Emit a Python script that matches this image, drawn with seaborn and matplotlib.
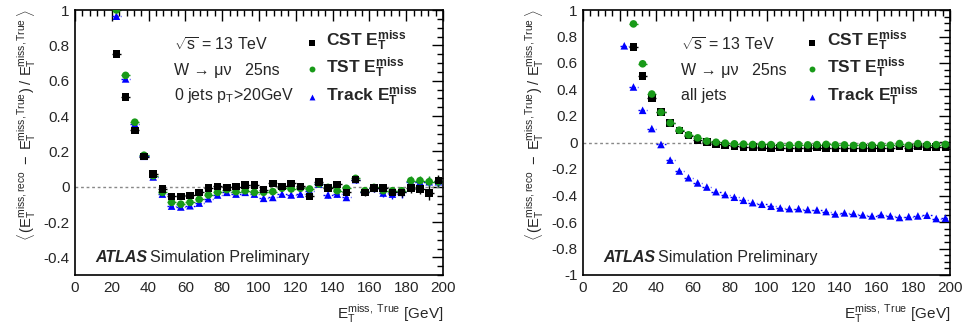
import numpy as np
import pandas as pd
import matplotlib
matplotlib.use("Agg")
import matplotlib.pyplot as plt
from matplotlib.ticker import MultipleLocator
import seaborn as sns

sns.set_style("white")
plt.rcParams['font.family'] = ['Liberation Sans', 'DejaVu Sans']
plt.rcParams['mathtext.fontset'] = 'custom'
plt.rcParams['mathtext.rm'] = 'Liberation Sans'
plt.rcParams['mathtext.it'] = 'Liberation Sans:italic'
plt.rcParams['mathtext.bf'] = 'Liberation Sans:bold'

# ---------------- data ----------------
# bin centres (GeV)
x_left = [22.5, 27.5, 32.5, 37.5, 42.5, 47.5, 52.5, 57.5, 62.5, 67.5, 72.5, 77.5,
          82.5, 87.5, 92.5, 97.5, 102.5, 107.5, 112.5, 117.5, 122.5, 127.5, 132.5,
          137.5, 142.5, 147.5, 152.5, 157.5, 162.5, 167.5, 172.5, 177.5, 182.5,
          187.5, 192.5, 197.5]
cst_left = [0.75, 0.507, 0.318, 0.17, 0.072, -0.013, -0.055, -0.055, -0.049, -0.033,
            -0.009, 0.002, -0.004, 0.0, 0.009, 0.009, -0.017, 0.019, 0.002, 0.019,
            0.002, -0.055, 0.028, -0.008, 0.013, -0.032, 0.04, -0.032, -0.009, -0.009,
            -0.032, -0.032, -0.009, -0.013, -0.036, 0.034]
tst_left = [1.0, 0.63, 0.365, 0.178, 0.062, -0.032, -0.089, -0.099, -0.089, -0.072,
            -0.047, -0.032, -0.017, -0.028, -0.023, -0.032, -0.032, -0.028, -0.009,
            -0.013, -0.009, -0.013, 0.015, -0.004, -0.023, -0.009, 0.047, -0.023,
            -0.004, -0.023, -0.023, -0.023, 0.034, 0.034, 0.028, 0.028]
trk_left = [0.965, 0.61, 0.355, 0.172, 0.055, -0.042, -0.11, -0.115, -0.108, -0.093,
            -0.068, -0.047, -0.032, -0.042, -0.032, -0.042, -0.066, -0.061, -0.042,
            -0.047, -0.042, -0.023, 0.015, -0.047, -0.042, -0.061, 0.04, -0.028,
            -0.009, -0.036, -0.042, -0.032, 0.028, 0.028, 0.028, 0.028]
cst_left_err = [0.006, 0.006, 0.006, 0.006, 0.006, 0.006, 0.006, 0.006, 0.007, 0.007,
                0.008, 0.008, 0.008, 0.009, 0.009, 0.010, 0.010, 0.011, 0.011, 0.012,
                0.012, 0.013, 0.014, 0.014, 0.015, 0.016, 0.017, 0.018, 0.019, 0.020,
                0.022, 0.025, 0.028, 0.030, 0.040, 0.030]
tst_left_err = [0.005, 0.005, 0.005, 0.005, 0.005, 0.005, 0.005, 0.005, 0.006, 0.006,
                0.007, 0.007, 0.007, 0.008, 0.008, 0.009, 0.009, 0.010, 0.010, 0.011,
                0.011, 0.012, 0.012, 0.013, 0.014, 0.015, 0.016, 0.017, 0.018, 0.019,
                0.020, 0.022, 0.025, 0.027, 0.030, 0.030]
trk_left_err = [0.005, 0.005, 0.005, 0.005, 0.005, 0.005, 0.006, 0.006, 0.006, 0.007,
                0.007, 0.008, 0.008, 0.009, 0.009, 0.010, 0.010, 0.011, 0.011, 0.012,
                0.012, 0.013, 0.014, 0.015, 0.016, 0.017, 0.018, 0.019, 0.020, 0.022,
                0.030, 0.032, 0.028, 0.030, 0.032, 0.030]

x_right_calo = [27.5, 32.5, 37.5, 42.5, 47.5, 52.5, 57.5, 62.5, 67.5, 72.5, 77.5,
                82.5, 87.5, 92.5, 97.5, 102.5, 107.5, 112.5, 117.5, 122.5, 127.5,
                132.5, 137.5, 142.5, 147.5, 152.5, 157.5, 162.5, 167.5, 172.5, 177.5,
                182.5, 187.5, 192.5, 197.5]
cst_right = [0.72, 0.504, 0.336, 0.228, 0.145, 0.09, 0.052, 0.017, 0.002, -0.015,
             -0.022, -0.027, -0.032, -0.035, -0.038, -0.04, -0.038, -0.042, -0.04,
             -0.04, -0.038, -0.04, -0.042, -0.04, -0.042, -0.04, -0.042, -0.044,
             -0.04, -0.03, -0.04, -0.03, -0.035, -0.035, -0.035]
tst_right = [0.895, 0.594, 0.366, 0.228, 0.148, 0.093, 0.058, 0.035, 0.01, 0.002,
             -0.005, -0.01, -0.012, -0.015, -0.015, -0.016, -0.02, -0.02, -0.016,
             -0.018, -0.016, -0.014, -0.018, -0.018, -0.022, -0.022, -0.02, -0.02,
             -0.02, -0.008, -0.022, -0.008, -0.016, -0.016, -0.014]
x_right_trk = [22.5, 27.5, 32.5, 37.5, 42.5, 47.5, 52.5, 57.5, 62.5, 67.5, 72.5, 77.5,
               82.5, 87.5, 92.5, 97.5, 102.5, 107.5, 112.5, 117.5, 122.5, 127.5,
               132.5, 137.5, 142.5, 147.5, 152.5, 157.5, 162.5, 167.5, 172.5, 177.5,
               182.5, 187.5, 192.5, 197.5]
trk_right = [0.73, 0.419, 0.243, 0.105, -0.015, -0.133, -0.215, -0.266, -0.305,
             -0.336, -0.371, -0.393, -0.413, -0.436, -0.454, -0.466, -0.481, -0.494,
             -0.499, -0.499, -0.506, -0.509, -0.521, -0.539, -0.531, -0.536, -0.546,
             -0.554, -0.544, -0.554, -0.566, -0.559, -0.554, -0.549, -0.574, -0.571]

series_names = ['CST', 'TST', 'Track']
series_colors = {'CST': 'black', 'TST': '#189a18', 'Track': '#0000ff'}
series_markers = {'CST': 's', 'TST': 'o', 'Track': '^'}

W, H = 968, 333
fig = plt.figure(figsize=(W / 100, H / 100), dpi=100)
axL = fig.add_axes([75 / W, 1 - 275 / H, 368 / W, 265 / H])
axR = fig.add_axes([583 / W, 1 - 275 / H, 367 / W, 265 / H])


def draw_series(ax, x, y, yerr, name):
    c = series_colors[name]
    eb = ax.errorbar(x, y, yerr=yerr, xerr=2.5, fmt='none', ecolor=c,
                     elinewidth=1.0, capsize=0, zorder=2)
    if name == 'Track':
        for lc in eb[2]:
            lc.set_linestyle((0, (1.5, 1.5)))
    df = pd.DataFrame({'x': x, 'y': y})
    sns.scatterplot(data=df, x='x', y='y', ax=ax, marker=series_markers[name],
                    color=c, s=30, edgecolor='none', linewidth=0, zorder=3,
                    legend=False)


# left panel
draw_series(axL, x_left, trk_left, trk_left_err, 'Track')
draw_series(axL, x_left, tst_left, tst_left_err, 'TST')
draw_series(axL, x_left, cst_left, cst_left_err, 'CST')

# right panel
draw_series(axR, x_right_trk, trk_right, [0.004] * len(trk_right), 'Track')
draw_series(axR, x_right_calo, cst_right, [0.004] * len(cst_right), 'CST')
draw_series(axR, x_right_calo, tst_right, [0.004] * len(tst_right), 'TST')

ylab = (r'$\left\langle\,(\mathrm{E_T^{miss,reco}\ -\ E_T^{miss,True}})\ /\ '
        r'\mathrm{E_T^{miss,True}}\,\right\rangle$')
xlab = r'$\mathrm{E_T^{miss,\ True}}$ [GeV]'

for ax, ylim in ((axL, (-0.5, 1.0)), (axR, (-1.0, 1.0))):
    ax.set_xlim(0, 200)
    ax.set_ylim(*ylim)
    ax.axhline(0, color='#888888', ls=(0, (2, 2)), lw=1.0, zorder=1)
    ax.xaxis.set_major_locator(MultipleLocator(20))
    ax.xaxis.set_minor_locator(MultipleLocator(4))
    ax.yaxis.set_major_locator(MultipleLocator(0.2))
    ax.yaxis.set_minor_locator(MultipleLocator(0.05))
    ax.tick_params(which='both', direction='in', top=True, right=True,
                   labelsize=11, color='black', pad=4)
    ax.tick_params(which='major', length=8, width=1)
    ax.tick_params(which='minor', length=4, width=1)
    for sp in ax.spines.values():
        sp.set_color('black')
        sp.set_linewidth(1.2)
    ax.set_xlabel(xlab, fontsize=11, loc='right', labelpad=6)
    ax.set_ylabel(ylab, fontsize=10.5, loc='top', labelpad=4)
    ax.text(0.055, 0.065, 'ATLAS', transform=ax.transAxes, fontsize=11.5,
            fontweight='bold', style='italic', va='center', ha='left')
    ax.text(0.205, 0.065, 'Simulation Preliminary', transform=ax.transAxes,
            fontsize=11.5, va='center', ha='left')

axL.yaxis.set_major_formatter(plt.FuncFormatter(lambda v, p: ('%g' % round(v, 2))))
axR.yaxis.set_major_formatter(plt.FuncFormatter(lambda v, p: ('%g' % round(v, 2))))

# annotations
info_left = [r'$\sqrt{\mathrm{s}}$ = 13 TeV', 'W → μν   25ns',
             r'0 jets p$_\mathrm{T}$>20GeV']
info_right = [r'$\sqrt{\mathrm{s}}$ = 13 TeV', 'W → μν   25ns', 'all jets']
rows = [0.868, 0.771, 0.676]
for ax, info in ((axL, info_left), (axR, info_right)):
    for t, yy in zip(info, rows):
        ax.text(0.268, yy, t, transform=ax.transAxes, fontsize=11.5, va='center',
                ha='left')

leg_rows = [0.877, 0.776, 0.671]
for ax, mx in ((axL, 0.643), (axR, 0.624)):
    for name, yy in zip(series_names, leg_rows):
        ax.scatter([mx], [yy], transform=ax.transAxes, marker=series_markers[name],
                   color=series_colors[name], s=18, linewidths=0, zorder=4,
                   clip_on=False)
        ax.text(mx + 0.04, yy + 0.005, name + r' $\mathbf{E_T^{miss}}$',
                transform=ax.transAxes, fontsize=12.5, fontweight='bold',
                va='center', ha='left')

fig.savefig('out.png', dpi=100)
